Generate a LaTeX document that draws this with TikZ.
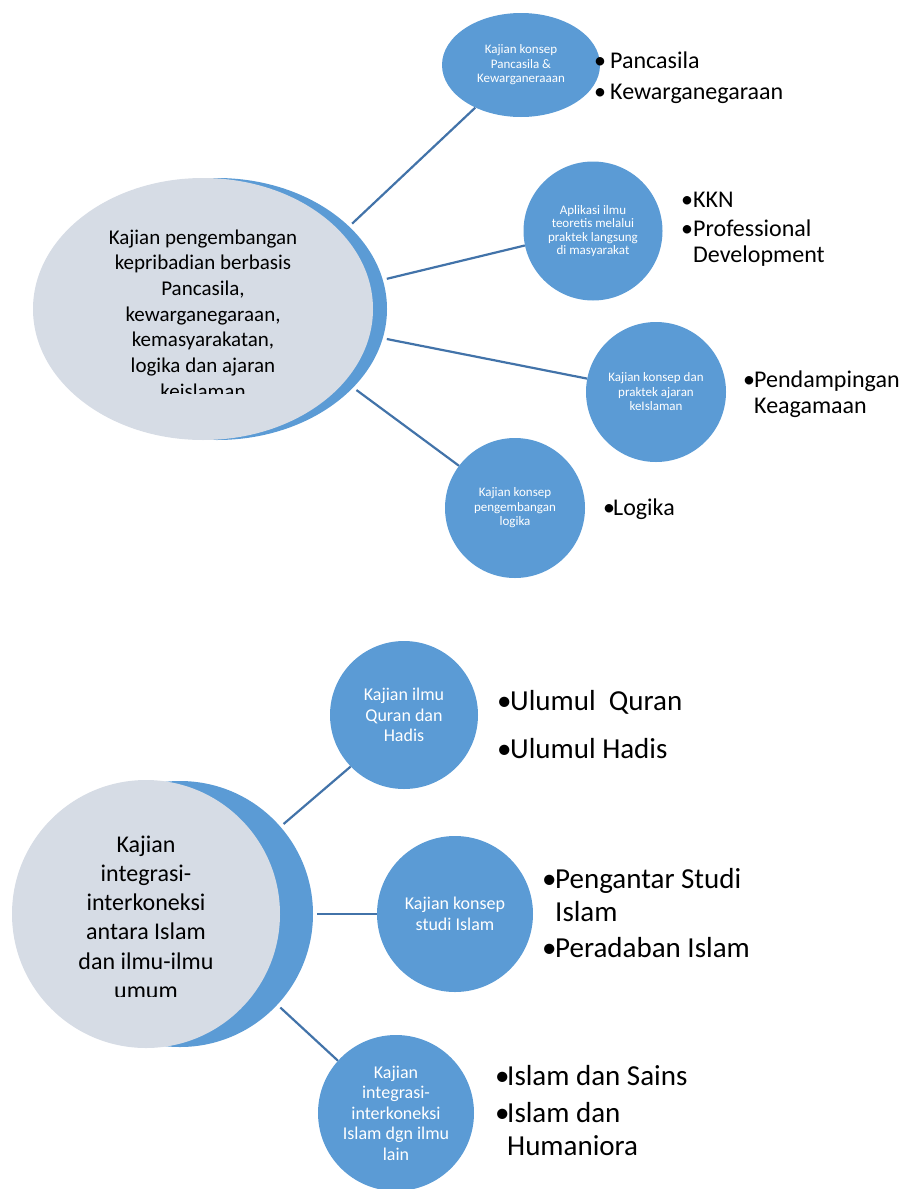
\documentclass[tikz,border=0pt]{standalone}
\usepackage{fontspec}
\setmainfont{Carlito}
\usetikzlibrary{shapes.geometric}

\definecolor{accentblue}{HTML}{5B9BD5}
\definecolor{hubgray}{HTML}{D6DCE5}
\definecolor{linkblue}{HTML}{4273A9}

% font sizes (1pt = 1 unit of the drawing)
\newcommand\hubfontA{\fontsize{21}{25.7}\selectfont}
\newcommand\hubfontB{\fontsize{24}{29.25}\selectfont}
\newcommand\topicfontA{\fontsize{13}{14.5}\selectfont}
\newcommand\topicfontB{\fontsize{18}{20.5}\selectfont}
\newcommand\itemfontA{\fontsize{24}{26.5}\selectfont}
\newcommand\itemfontB{\fontsize{29}{33}\selectfont}

% one bullet entry with a hanging indent; baseline = first line
\newcommand\entry[2]{\parbox[t]{240pt}{\hangindent=#1\hangafter=1\makebox[#1][l]{\textbullet}#2}}
% centred block of lines; baseline = first line
\newcommand\hubblock[1]{\parbox[t]{300pt}{\centering #1}}

\tikzset{
  hub/.style={ellipse, fill=hubgray, draw=none, inner sep=0pt},
  hubback/.style={ellipse, fill=accentblue, draw=none, inner sep=0pt},
  topic/.style={circle, fill=accentblue, draw=none, inner sep=0pt, text=white, align=center},
  link/.style={draw=linkblue, line width=2.2pt, shorten <=4pt},
  hubtext/.style={anchor=base, inner sep=0pt, text=black},
  itemA/.style={anchor=base west, inner sep=0pt, text=black, font=\itemfontA},
  itemB/.style={anchor=base west, inner sep=0pt, text=black, font=\itemfontB},
}

\begin{document}
\begin{tikzpicture}[x=1pt,y=-1pt]
\useasboundingbox (0,0) rectangle (903,1189);

% ---------- upper group ----------
\node[hubback, minimum width=340pt, minimum height=262pt] (hubAback) at (217,309) {};
\node[hub, minimum width=340pt, minimum height=262pt] (hubA) at (203,309) {};
\begin{scope}
  \clip (0,170) rectangle (400,393);
  \node[hubtext, font=\hubfontA] (hubAtext) at (203,244) {\hubblock{Kajian pengembangan\\ kepribadian berbasis\\ Pancasila,\\ kewarganegaraan,\\ kemasyarakatan,\\ logika dan ajaran\\ keislaman}};
\end{scope}

\node[topic, ellipse, minimum width=158pt, minimum height=104pt, font=\topicfontA] (tA1) at (521,65) {Kajian konsep\\Pancasila \&\\Kewarganeraaan};
\node[topic, minimum size=139pt, font=\fontsize{13}{13.5}\selectfont] (tA2) at (593,231) {Aplikasi ilmu\\teoretis melalui\\praktek langsung\\di masyarakat};
\node[topic, minimum size=140pt, font=\topicfontA] (tA3) at (656,392) {Kajian konsep dan\\praktek ajaran\\keIslaman};
\node[topic, minimum size=140pt, font=\topicfontA] (tA4) at (515,508) {Kajian konsep\\pengembangan\\logika};

\draw[link] (hubAback.32) -- (tA1.223);
\draw[link] (hubAback.10) -- (tA2.192);
\draw[link] (hubAback.350) -- (tA3.169);
\draw[link] (hubAback.330) -- (tA4.143);

\node[itemA] (bA1) at (594,68) {\entry{16pt}{Pancasila}};
\node[itemA] (bA2) at (594,99) {\entry{16pt}{Kewarganegaraan}};
\node[itemA] (bA3) at (681,207) {\entry{12pt}{KKN}};
\node[itemA] (bA4) at (681,236) {\entry{12pt}{Professional\newline Development}};
\node[itemA] (bA5) at (743,387) {\entry{11pt}{Pendampingan\newline Keagamaan}};
\node[itemA] (bA6) at (603,515) {\entry{10pt}{Logika}};

% ---------- lower group ----------
\node[hubback, circle, minimum size=266pt] (hubBback) at (180,914) {};
\node[hub, circle, minimum size=268pt] (hubB) at (146,914) {};
\begin{scope}
  \clip (0,770) rectangle (320,996);
  \node[hubtext, font=\hubfontB] (hubBtext) at (146,852) {\hubblock{Kajian\\ integrasi-\\ interkoneksi\\ antara Islam\\ dan ilmu-ilmu\\ umum}};
\end{scope}

\node[topic, minimum size=148pt, font=\topicfontB] (tB1) at (404,715) {Kajian ilmu\\Quran dan\\Hadis};
\node[topic, minimum size=156pt, font=\topicfontB] (tB2) at (455,914) {Kajian konsep\\studi Islam};
\node[topic, minimum size=156pt, font=\topicfontB] (tB3) at (396,1113) {Kajian\\integrasi-\\interkoneksi\\Islam dgn ilmu\\lain};

\draw[link] (hubBback.41) -- (tB1.224);
\draw[link] (hubBback.0) -- (tB2.180);
\draw[link] (hubBback.317) -- (tB3.138);

\node[itemB] (bB1) at (497,710) {\entry{13pt}{Ulumul~ Quran}};
\node[itemB] (bB2) at (497,758) {\entry{13pt}{Ulumul Hadis}};
\node[itemB] (bB3) at (542,888) {\entry{13pt}{Pengantar Studi\newline Islam}};
\node[itemB] (bB4) at (542,957) {\entry{13pt}{Peradaban Islam}};
\node[itemB] (bB5) at (495,1085) {\entry{12pt}{Islam dan Sains}};
\node[itemB] (bB6) at (495,1122) {\entry{12pt}{Islam dan\newline Humaniora}};
\end{tikzpicture}
\end{document}
